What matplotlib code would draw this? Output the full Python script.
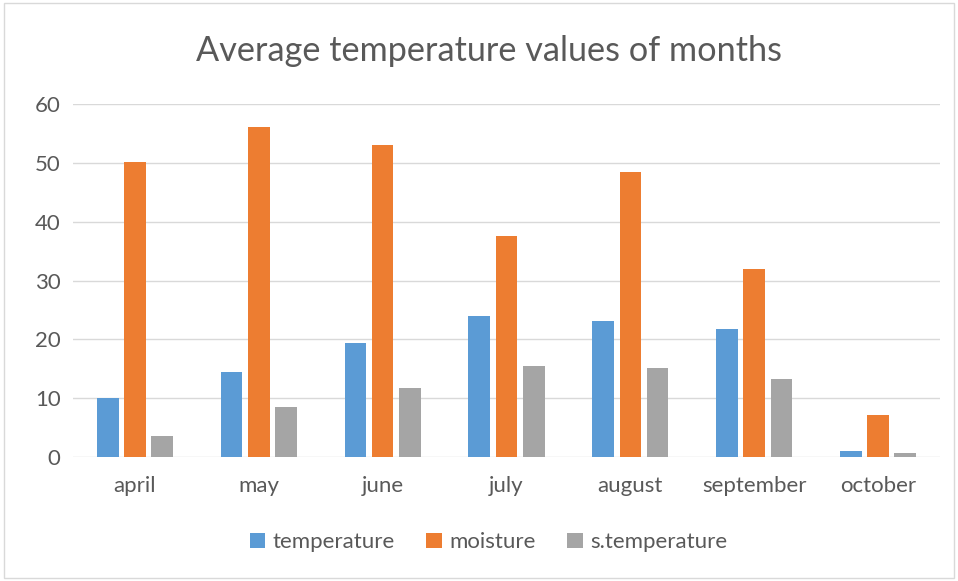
import matplotlib
matplotlib.use("Agg")
import matplotlib.pyplot as plt
import numpy as np

months = ["april", "may", "june", "july", "august", "september", "october"]
temperature = [10.0, 14.4, 19.4, 23.9, 23.1, 21.7, 1.1]
moisture = [50.2, 56.1, 53.0, 37.6, 48.5, 32.0, 7.2]
s_temperature = [3.5, 8.5, 11.7, 15.4, 15.1, 13.2, 0.7]
series_names = ["temperature", "moisture", "s.temperature"]
colors = ["#5B9BD5", "#ED7D31", "#A5A5A5"]

plt.rcParams['font.family'] = ['Lato', 'DejaVu Sans']

fig = plt.figure(figsize=(9.58, 5.81), dpi=100)
fig.patch.set_facecolor("white")
border = plt.Rectangle((0.004, 0.006), 0.992, 0.988, transform=fig.transFigure,
                       fill=False, edgecolor="#D9D9D9", linewidth=1.0)
fig.patches.append(border)

ax = fig.add_axes([0.0762, 0.2134, 0.905, 0.6076])
x = np.arange(len(months))
w = 0.175
step = 0.22
for i, (vals, name, c) in enumerate(zip([temperature, moisture, s_temperature], series_names, colors)):
    ax.bar(x + (i - 1) * step, vals, width=w, color=c, label=name, zorder=3)

ax.set_xlim(-0.5, len(months) - 0.5)
ax.set_ylim(0, 60)
ax.set_yticks(range(0, 61, 10))
ax.set_xticks(x)
ax.set_xticklabels(months)
ax.grid(axis="y", color="#D9D9D9", linewidth=1.0, zorder=0)
for s in ax.spines.values():
    s.set_visible(False)
ax.tick_params(axis="both", length=0, labelsize=16, colors="#595959")
ax.tick_params(axis="y", pad=9)
ax.tick_params(axis="x", pad=14)

fig.text(0.51, 0.913, "Average temperature values of months", ha="center", va="center",
         fontsize=24.7, color="#595959")

leg = fig.legend(loc="center", bbox_to_anchor=(0.51, 0.067), ncol=3, frameon=False,
                 fontsize=16, handlelength=0.7, handleheight=0.7, handletextpad=0.35,
                 columnspacing=1.4, labelcolor="#595959")

fig.savefig("out.png", dpi=100)
